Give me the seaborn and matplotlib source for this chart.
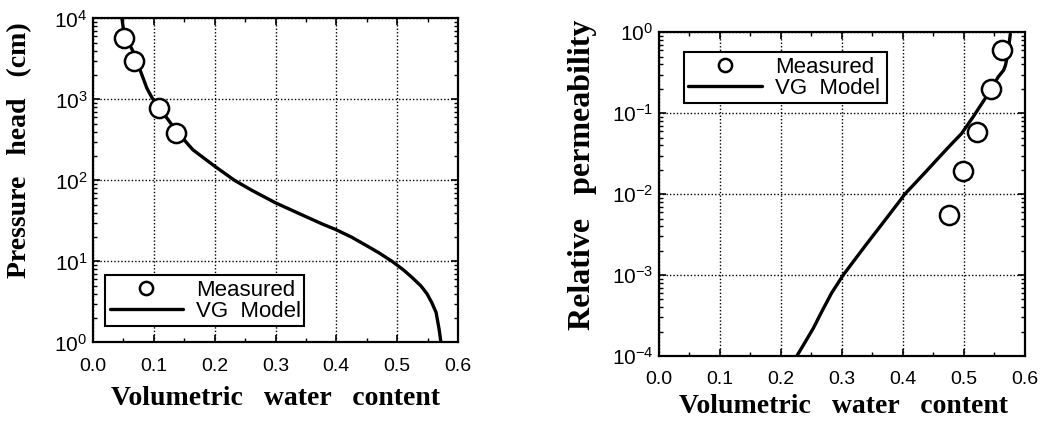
import numpy as np
import pandas as pd
import matplotlib
matplotlib.use("Agg")
import matplotlib.pyplot as plt
import matplotlib.ticker as mticker
from matplotlib.lines import Line2D
import seaborn as sns

# ---------------- data ----------------
left_theta_meas = [0.051, 0.068, 0.108, 0.137]
left_h_meas = [5700, 2990, 780, 386]

left_theta_vg = [0.0475, 0.051, 0.066, 0.0885, 0.097, 0.118, 0.138, 0.164, 0.200, 0.233, 0.262,
                 0.300, 0.344, 0.377, 0.398, 0.425, 0.449, 0.470, 0.492, 0.511, 0.525,
                 0.539, 0.549, 0.557, 0.564, 0.569, 0.572]
left_h_vg = [10000, 6500, 3900, 1380, 1050, 640, 400, 240, 150, 100, 75,
             53, 37.5, 29, 25, 20, 15.8, 12.8, 10, 7.8, 6.3,
             5.0, 4.0, 3.1, 2.35, 1.45, 1.0]

right_theta_meas = [0.562, 0.544, 0.521, 0.498, 0.476]
right_kr_meas = [0.61, 0.20, 0.059, 0.0194, 0.0056]

right_theta_vg = [0.226, 0.240, 0.253, 0.267, 0.283, 0.302, 0.321, 0.340, 0.367, 0.395, 0.403,
                  0.433, 0.461, 0.480, 0.496, 0.515, 0.540, 0.556, 0.565, 0.568, 0.572, 0.576]
right_kr_vg = [1.0e-4, 1.5e-4, 2.2e-4, 3.55e-4, 6.0e-4, 1.0e-3, 1.55e-3, 2.4e-3, 4.4e-3, 8.3e-3, 1.0e-2,
               1.74e-2, 2.95e-2, 4.2e-2, 5.6e-2, 9.0e-2, 0.175, 0.28, 0.34, 0.39, 0.55, 0.95]

x_ticks = [0.0, 0.1, 0.2, 0.3, 0.4, 0.5, 0.6]
xlabel = "Volumetric   water   content"
ylabel_left = "Pressure   head   (cm)"
ylabel_right = "Relative   permeability"
legend_labels = ["Measured", "VG  Model"]

# ---------------- style ----------------
sns.set_style("ticks")
plt.rcParams["font.family"] = ["Liberation Sans", "DejaVu Sans"]
plt.rcParams["mathtext.fontset"] = "custom"
plt.rcParams["mathtext.rm"] = "Liberation Sans"
plt.rcParams["mathtext.it"] = "Liberation Sans"
plt.rcParams["mathtext.bf"] = "Liberation Sans:bold"
plt.rcParams["mathtext.default"] = "regular"
for k in ["text.color", "axes.labelcolor", "xtick.color", "ytick.color", "axes.edgecolor"]:
    plt.rcParams[k] = "black"

fig = plt.figure(figsize=(10.43, 4.30), dpi=100)
ax1 = fig.add_axes([0.0892, 0.2035, 0.3499, 0.7535])
ax2 = fig.add_axes([0.6318, 0.1721, 0.3509, 0.7528])


def style_axes(ax, ylim):
    ax.set_yscale("log")
    ax.set_xlim(0.0, 0.6)
    ax.set_ylim(*ylim)
    ax.set_xticks(x_ticks)
    ax.xaxis.set_major_formatter(mticker.FormatStrFormatter("%.1f"))
    ax.xaxis.set_minor_locator(mticker.MultipleLocator(0.05))
    ax.yaxis.set_major_locator(mticker.LogLocator(base=10, numticks=20))
    ax.yaxis.set_minor_locator(mticker.LogLocator(base=10, subs=np.arange(2, 10), numticks=20))
    ax.yaxis.set_minor_formatter(mticker.NullFormatter())
    ax.grid(True, which="major", color="black", linestyle=(0, (1, 1.5)), linewidth=1.0)
    ax.tick_params(which="both", direction="in", top=True, right=True, color="black",
                   labelcolor="black")
    ax.tick_params(which="major", length=5, width=1.2)
    ax.tick_params(which="minor", length=3, width=1.0)
    ax.tick_params(axis="x", pad=11, labelsize=14)
    ax.tick_params(axis="y", pad=4, labelsize=15)
    for s in ax.spines.values():
        s.set_linewidth(1.6)
        s.set_color("black")
        s.set_visible(True)
    ax.set_axisbelow(True)


def draw(ax, tm, ym, tv, yv):
    dfv = pd.DataFrame({"theta": tv, "val": yv})
    dfm = pd.DataFrame({"theta": tm, "val": ym})
    sns.lineplot(data=dfv, x="theta", y="val", ax=ax, color="black", linewidth=2.4,
                 sort=False, estimator=None, legend=False, zorder=3)
    sns.scatterplot(data=dfm, x="theta", y="val", ax=ax, s=190, marker="o",
                    facecolor="white", edgecolor="black", linewidth=1.8,
                    legend=False, zorder=4)


style_axes(ax1, (1, 1e4))
draw(ax1, left_theta_meas, left_h_meas, left_theta_vg, left_h_vg)
style_axes(ax2, (1e-4, 1))
draw(ax2, right_theta_meas, right_kr_meas, right_theta_vg, right_kr_vg)

lab20 = dict(family="Liberation Serif", weight="bold", size=20, color="black")
lab23 = dict(family="Liberation Serif", weight="bold", size=23, color="black")

ax1.set_xlabel(xlabel, fontdict=lab20)
ax1.xaxis.set_label_coords(0.501, -0.135)
ax1.set_ylabel(ylabel_left, fontdict=lab20)
ax1.yaxis.set_label_coords(-0.168, 0.594)

ax2.set_xlabel(xlabel, fontdict=lab20)
ax2.xaxis.set_label_coords(0.504, -0.118)
ax2.set_ylabel(ylabel_right, fontdict=lab23)
ax2.yaxis.set_label_coords(-0.168, 0.559)

handles = [
    Line2D([], [], linestyle="none", marker="o", markersize=9.5, markerfacecolor="white",
           markeredgecolor="black", markeredgewidth=1.8),
    Line2D([], [], color="black", linewidth=2.4),
]


def add_legend(ax, bbox):
    leg = ax.legend(handles, legend_labels, loc="lower left", bbox_to_anchor=bbox,
                    mode="expand", fancybox=False, frameon=True, edgecolor="black",
                    framealpha=1, fontsize=16, handlelength=3.3, handletextpad=0.6,
                    borderpad=0.2, labelspacing=0.0, borderaxespad=0)
    leg.get_frame().set_linewidth(1.5)
    for t in leg.get_texts():
        t.set_color("black")
    return leg


add_legend(ax1, (0.033, 0.051, 0.545, 0.16))
add_legend(ax2, (0.068, 0.781, 0.555, 0.163))

fig.savefig("out.png", dpi=100)
